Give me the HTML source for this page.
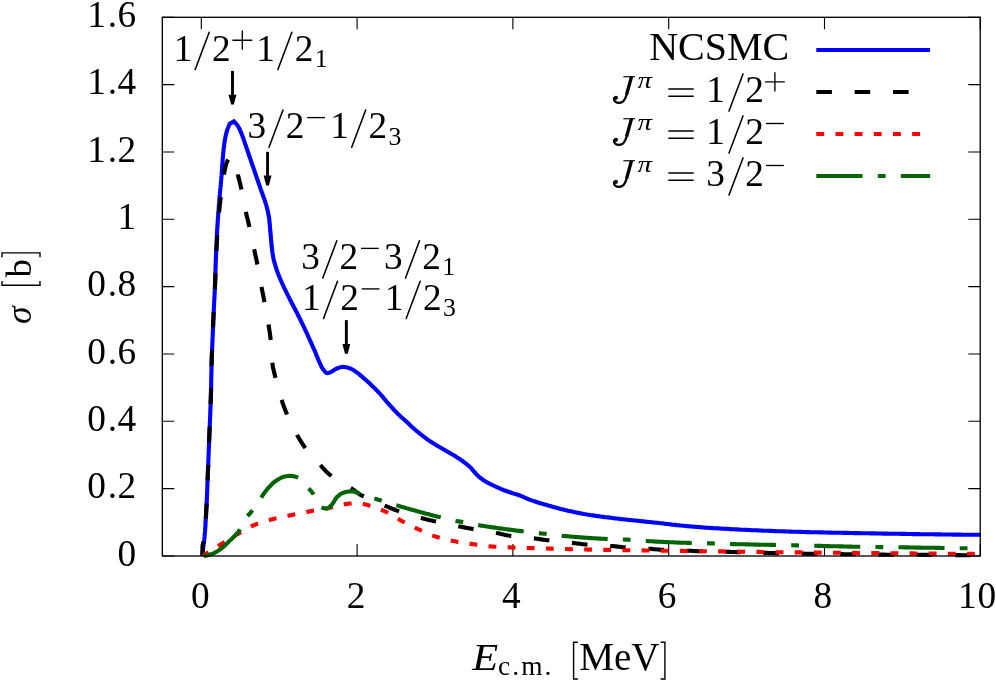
<!DOCTYPE html>
<html><head><meta charset="utf-8"><title>NCSMC cross section</title>
<style>html,body{margin:0;padding:0;background:#fff;}svg{display:block;will-change:transform;}</style>
</head><body>
<svg width="996" height="682" viewBox="0 0 996 682">
<rect width="996" height="682" fill="#ffffff"/>
<g stroke="#000" stroke-width="1.12" fill="none">
<path d="M201.3 556.0v-12.0M201.3 17.3v12.0"/>
<path d="M357.1 556.0v-12.0M357.1 17.3v12.0"/>
<path d="M512.9 556.0v-12.0M512.9 17.3v12.0"/>
<path d="M668.7 556.0v-12.0M668.7 17.3v12.0"/>
<path d="M824.5 556.0v-12.0M824.5 17.3v12.0"/>
<path d="M980.3 556.0v-12.0M980.3 17.3v12.0"/>
<path d="M162.3 556.0h12.0M980.3 556.0h-12.0"/>
<path d="M162.3 488.6h12.0M980.3 488.6h-12.0"/>
<path d="M162.3 421.3h12.0M980.3 421.3h-12.0"/>
<path d="M162.3 354.0h12.0M980.3 354.0h-12.0"/>
<path d="M162.3 286.6h12.0M980.3 286.6h-12.0"/>
<path d="M162.3 219.3h12.0M980.3 219.3h-12.0"/>
<path d="M162.3 152.0h12.0M980.3 152.0h-12.0"/>
<path d="M162.3 84.6h12.0M980.3 84.6h-12.0"/>
<path d="M162.3 17.3h12.0M980.3 17.3h-12.0"/>
</g>
<path id="c-blue" d="M202.3 556.0L202.5 554.5 202.6 553.0 202.8 551.5 203.0 550.0 203.1 548.5 203.3 547.0 203.5 545.5 203.7 544.0 203.9 542.5 204.1 541.0 204.3 539.5 204.4 538.0 204.6 536.5 204.7 535.0 204.8 533.5 205.0 532.0 205.1 530.5 205.2 529.0 205.3 527.5 205.4 526.0 205.5 524.5 205.5 523.0 205.6 521.5 205.7 520.0 205.8 518.5 205.9 517.0 206.0 515.5 206.1 514.0 206.1 512.5 206.2 511.0 206.3 509.5 206.4 508.0 206.5 506.5 206.6 505.0 206.6 503.5 206.7 502.0 206.8 500.5 206.8 499.0 206.9 497.4 207.0 495.9 207.0 494.4 207.1 492.9 207.2 491.4 207.2 489.9 207.3 488.4 207.3 486.9 207.4 485.4 207.4 483.9 207.5 482.4 207.6 480.9 207.6 479.4 207.7 477.9 207.7 476.4 207.8 474.9 207.9 473.4 207.9 471.9 208.0 470.3 208.0 468.8 208.1 467.3 208.2 465.8 208.2 464.3 208.3 462.8 208.3 461.3 208.4 459.8 208.5 458.3 208.5 456.8 208.6 455.3 208.6 453.8 208.7 452.3 208.8 450.8 208.8 449.3 208.9 447.8 208.9 446.3 209.0 444.8 209.0 443.2 209.1 441.7 209.2 440.2 209.2 438.7 209.3 437.2 209.3 435.7 209.4 434.2 209.5 432.7 209.5 431.2 209.6 429.7 209.7 428.2 209.7 426.7 209.8 425.2 209.8 423.7 209.9 422.2 210.0 420.7 210.0 419.2 210.1 417.7 210.2 416.2 210.2 414.6 210.3 413.1 210.3 411.6 210.4 410.1 210.4 408.6 210.5 407.1 210.6 405.6 210.6 404.1 210.7 402.6 210.7 401.1 210.8 399.6 210.8 398.1 210.9 396.6 210.9 395.1 210.9 393.6 211.0 392.1 211.0 390.6 211.1 389.0 211.1 387.5 211.1 386.0 211.2 384.5 211.2 383.0 211.2 381.5 211.2 380.0 211.3 378.5 211.3 377.0 211.3 375.5 211.4 374.0 211.4 372.5 211.4 371.0 211.5 369.5 211.5 368.0 211.5 366.5 211.6 364.9 211.6 363.4 211.6 361.9 211.7 360.4 211.7 358.9 211.8 357.4 211.8 355.9 211.9 354.4 212.0 352.9 212.0 351.4 212.1 349.9 212.1 348.4 212.2 346.9 212.3 345.4 212.3 343.9 212.4 342.4 212.5 340.9 212.5 339.4 212.6 337.8 212.7 336.3 212.7 334.8 212.8 333.3 212.8 331.8 212.9 330.3 213.0 328.8 213.0 327.3 213.1 325.8 213.1 324.3 213.2 322.8 213.3 321.3 213.3 319.8 213.4 318.3 213.5 316.8 213.5 315.3 213.6 313.8 213.7 312.3 213.8 310.8 213.8 309.3 213.9 307.7 214.0 306.2 214.1 304.7 214.1 303.2 214.2 301.7 214.3 300.2 214.4 298.7 214.4 297.2 214.5 295.7 214.6 294.2 214.7 292.7 214.7 291.2 214.8 289.7 214.9 288.2 214.9 286.7 215.0 285.2 215.1 283.7 215.1 282.2 215.2 280.7 215.2 279.2 215.3 277.6 215.3 276.1 215.4 274.6 215.4 273.1 215.4 271.6 215.5 270.1 215.5 268.6 215.6 267.1 215.6 265.6 215.7 264.1 215.7 262.6 215.8 261.1 215.8 259.6 215.9 258.1 216.0 256.6 216.0 255.1 216.1 253.6 216.1 252.0 216.2 250.5 216.3 249.0 216.3 247.5 216.4 246.0 216.5 244.5 216.5 243.0 216.6 241.5 216.7 240.0 216.7 238.5 216.8 237.0 216.9 235.5 217.0 234.0 217.1 232.5 217.1 231.0 217.2 229.5 217.3 228.0 217.4 226.5 217.5 225.0 217.6 223.5 217.7 222.0 217.8 220.5 217.9 218.9 218.0 217.4 218.1 215.9 218.2 214.4 218.3 212.9 218.4 211.4 218.6 209.9 218.7 208.4 218.8 206.9 218.9 205.4 219.0 203.9 219.2 202.4 219.3 200.9 219.4 199.4 219.5 197.9 219.6 196.4 219.8 194.9 219.9 193.4 220.0 191.9 220.2 190.4 220.3 188.9 220.5 187.4 220.6 185.9 220.8 184.4 220.9 182.9 221.0 181.4 221.2 179.9 221.3 178.4 221.4 176.9 221.6 175.4 221.7 173.9 221.8 172.4 221.9 170.9 222.0 169.4 222.1 167.9 222.2 166.4 222.3 164.9 222.4 163.4 222.5 161.9 222.6 160.4 222.7 158.9 222.8 157.4 223.0 155.9 223.1 154.4 223.2 152.9 223.4 151.4 223.5 149.9 223.7 148.4 223.9 146.9 224.1 145.4 224.3 143.9 224.5 142.4 224.7 140.9 225.0 139.4 225.3 137.9 225.6 136.4 225.9 135.0 226.2 133.5 226.6 132.1 227.0 130.7 227.5 129.2 228.1 127.8 228.6 126.4 229.2 125.0 229.8 123.6 233.8 121.4 234.9 122.5 236.0 123.6 237.0 124.8 237.9 126.0 238.6 127.3 239.4 128.7 240.0 130.1 240.6 131.5 241.2 132.9 241.8 134.4 242.3 135.8 242.9 137.3 243.4 138.7 243.9 140.2 244.5 141.6 244.9 143.1 245.4 144.6 245.9 146.0 246.4 147.5 246.9 148.9 247.4 150.4 247.9 151.9 248.4 153.3 248.9 154.8 249.4 156.2 249.9 157.7 250.4 159.2 250.9 160.6 251.4 162.1 251.9 163.5 252.4 165.0 252.9 166.4 253.4 167.9 253.9 169.4 254.4 170.8 254.9 172.3 255.4 173.7 255.9 175.2 256.4 176.6 256.9 178.1 257.4 179.6 257.9 181.0 258.4 182.5 258.9 183.9 259.4 185.4 259.9 186.8 260.4 188.3 260.9 189.7 261.4 191.2 261.9 192.6 262.5 194.1 263.0 195.5 263.5 197.0 264.1 198.4 264.6 199.9 265.1 201.4 265.5 202.8 266.0 204.3 266.4 205.8 266.8 207.3 267.2 208.8 267.5 210.2 267.9 211.7 268.2 213.3 268.5 214.8 268.8 216.3 269.1 217.8 269.2 219.3 269.4 220.8 269.5 222.3 269.7 223.8 269.8 225.3 269.9 226.8 270.1 228.3 270.2 229.8 270.3 231.3 270.5 232.8 270.6 234.3 270.7 235.8 270.9 237.3 271.0 238.8 271.1 240.3 271.3 241.8 271.4 243.3 271.5 244.8 271.7 246.3 271.9 247.8 272.1 249.3 272.2 250.8 272.4 252.3 272.7 253.8 272.9 255.2 273.1 256.7 273.4 258.2 273.7 259.7 274.1 261.1 274.5 262.6 274.9 264.0 275.3 265.5 275.8 266.9 276.2 268.4 276.7 269.8 277.2 271.2 277.7 272.6 278.2 274.0 278.7 275.4 279.3 276.8 279.9 278.2 280.5 279.6 281.1 281.0 281.7 282.4 282.3 283.7 283.0 285.1 283.6 286.5 284.2 287.8 284.9 289.2 285.5 290.5 286.2 291.9 286.9 293.3 287.5 294.6 288.2 295.9 288.9 297.3 289.6 298.6 290.2 300.0 290.9 301.3 291.6 302.7 292.3 304.0 293.0 305.3 293.7 306.7 294.4 308.0 295.1 309.3 295.8 310.7 296.5 312.0 297.2 313.3 297.8 314.7 298.5 316.0 299.2 317.4 299.9 318.7 300.5 320.1 301.2 321.4 301.8 322.8 302.5 324.1 303.2 325.5 303.8 326.9 304.5 328.2 305.1 329.6 305.7 330.9 306.4 332.3 307.0 333.7 307.6 335.0 308.2 336.4 308.9 337.8 309.5 339.2 310.1 340.5 310.7 341.9 311.3 343.3 311.9 344.7 312.5 346.0 313.1 347.4 313.8 348.8 314.4 350.2 315.0 351.5 315.6 352.9 316.1 354.3 316.7 355.7 317.3 357.1 317.8 358.5 318.4 359.9 319.0 361.3 319.6 362.7 320.2 364.0 320.9 365.4 321.5 366.8 322.3 368.1 323.1 369.4 324.0 370.5 325.1 371.8 326.3 372.8 327.6 373.1 329.0 372.7 330.5 372.2 331.9 371.5 333.1 370.7 334.4 369.8 335.7 369.0 337.0 368.5 338.4 367.9 339.9 367.4 341.4 367.0 342.9 366.9 344.3 367.0 345.8 367.2 347.3 367.6 348.8 368.0 350.2 368.4 351.6 369.0 352.9 369.7 354.2 370.6 355.5 371.4 356.7 372.3 357.9 373.2 359.1 374.1 360.2 375.1 361.4 376.1 362.5 377.1 363.6 378.1 364.8 379.1 365.9 380.1 367.0 381.1 368.1 382.1 369.2 383.1 370.3 384.1 371.4 385.2 372.5 386.2 373.6 387.3 374.7 388.3 375.7 389.4 376.8 390.4 377.8 391.5 378.9 392.6 379.9 393.7 380.9 394.8 381.9 395.9 382.9 397.1 383.8 398.3 384.8 399.4 385.8 400.6 386.7 401.7 387.7 402.9 388.7 404.0 389.7 405.1 390.7 406.2 391.7 407.3 392.8 408.5 393.8 409.6 394.8 410.7 395.9 411.7 396.9 412.8 398.0 413.9 399.1 414.9 400.1 416.0 401.2 417.0 402.3 418.0 403.5 419.0 404.6 420.1 405.7 421.1 406.8 422.1 407.9 423.1 409.0 424.1 410.1 425.2 411.2 426.2 412.3 427.2 413.4 428.2 414.6 429.2 415.7 430.2 416.8 431.2 418.0 432.1 419.2 433.1 420.3 434.0 421.5 435.0 422.7 435.9 423.9 436.8 425.1 437.7 426.3 438.6 427.5 439.5 428.8 440.4 430.0 441.2 431.3 442.0 432.5 442.8 433.8 443.6 435.1 444.4 436.4 445.2 437.7 446.0 439.0 446.8 440.3 447.5 441.6 448.2 442.9 449.0 444.2 449.7 445.5 450.5 446.8 451.2 448.1 452.0 449.4 452.7 450.7 453.5 452.0 454.3 453.3 455.0 454.6 455.8 455.9 456.6 457.1 457.4 458.4 458.2 459.7 459.0 460.9 459.9 462.1 460.8 463.4 461.7 464.6 462.6 465.7 463.5 466.9 464.4 468.1 465.4 469.2 466.3 470.4 467.4 471.4 468.4 472.4 469.6 473.3 470.7 474.3 471.9 475.3 473.0 476.3 474.1 477.4 475.2 478.5 476.3 479.6 477.3 480.8 478.2 482.0 479.1 483.2 480.0 484.5 480.8 485.7 481.6 487.0 482.3 488.4 483.0 489.7 483.8 491.0 484.4 492.4 485.1 493.8 485.7 495.1 486.3 496.5 486.9 497.9 487.6 499.3 488.2 500.6 488.8 502.0 489.4 503.4 490.0 504.8 490.5 506.2 491.0 507.6 491.5 509.1 492.0 510.5 492.5 511.9 493.0 513.4 493.4 514.8 493.9 516.2 494.3 517.7 494.8 519.1 495.3 520.5 495.8 521.9 496.3 523.3 496.9 524.7 497.6 526.0 498.2 527.4 498.8 528.8 499.3 530.2 499.9 531.6 500.4 533.1 500.9 534.5 501.3 535.9 501.8 537.3 502.3 538.8 502.7 540.2 503.2 541.7 503.6 543.1 504.0 544.6 504.4 546.0 504.8 547.5 505.3 548.9 505.7 550.4 506.1 551.8 506.5 553.3 506.9 554.7 507.3 556.2 507.7 557.6 508.1 559.1 508.5 560.5 508.9 562.0 509.2 563.4 509.6 564.9 510.0 566.4 510.3 567.8 510.7 569.3 511.0 570.8 511.3 572.2 511.6 573.7 512.0 575.2 512.3 576.7 512.6 578.1 512.9 579.6 513.1 581.1 513.4 582.6 513.7 584.1 514.0 585.5 514.2 587.0 514.5 588.5 514.7 590.0 515.0 591.5 515.2 593.0 515.4 594.5 515.6 595.9 515.9 597.4 516.1 598.9 516.3 600.4 516.5 601.9 516.7 603.4 516.9 604.9 517.1 606.4 517.2 607.9 517.4 609.4 517.6 610.9 517.8 612.4 518.0 613.9 518.2 615.4 518.4 616.8 518.5 618.3 518.7 619.8 518.9 621.3 519.1 622.8 519.2 624.3 519.4 625.8 519.5 627.3 519.7 628.8 519.9 630.3 520.0 631.8 520.2 633.3 520.3 634.8 520.5 636.3 520.6 637.8 520.8 639.3 521.0 640.8 521.1 642.3 521.3 643.8 521.4 645.3 521.6 646.8 521.7 648.3 521.9 649.8 522.0 651.3 522.2 652.8 522.4 654.3 522.5 655.8 522.7 657.3 522.8 658.8 523.0 660.3 523.2 661.7 523.3 663.2 523.5 664.7 523.7 666.2 523.9 667.7 524.0 669.2 524.2 670.7 524.4 672.2 524.6 673.7 524.7 675.2 524.9 676.7 525.1 678.2 525.2 679.7 525.4 681.2 525.5 682.7 525.7 684.2 525.8 685.7 526.0 687.2 526.1 688.7 526.2 690.2 526.4 691.7 526.5 693.2 526.6 694.7 526.8 696.2 526.9 697.7 527.0 699.2 527.1 700.7 527.3 702.2 527.4 703.7 527.5 705.2 527.6 706.7 527.7 708.2 527.8 709.7 527.9 711.2 528.0 712.7 528.1 714.2 528.2 715.7 528.2 717.2 528.3 718.7 528.4 720.2 528.5 721.7 528.6 723.2 528.7 724.7 528.8 726.2 528.9 727.7 528.9 729.2 529.0 730.7 529.1 732.2 529.2 733.7 529.3 735.2 529.4 736.7 529.4 738.2 529.5 739.7 529.6 741.2 529.7 742.8 529.7 744.3 529.8 745.8 529.9 747.3 529.9 748.8 530.0 750.3 530.1 751.8 530.2 753.3 530.2 754.8 530.3 756.3 530.3 757.8 530.4 759.3 530.5 760.8 530.5 762.3 530.6 763.8 530.7 765.3 530.7 766.8 530.8 768.3 530.8 769.8 530.9 771.3 530.9 772.8 531.0 774.3 531.1 775.8 531.1 777.3 531.2 778.8 531.2 780.3 531.3 781.9 531.3 783.4 531.4 784.9 531.4 786.4 531.5 787.9 531.5 789.4 531.6 790.9 531.6 792.4 531.7 793.9 531.7 795.4 531.8 796.9 531.8 798.4 531.8 799.9 531.9 801.4 531.9 802.9 532.0 804.4 532.0 805.9 532.1 807.4 532.1 808.9 532.1 810.4 532.2 811.9 532.2 813.4 532.2 815.0 532.3 816.5 532.3 818.0 532.3 819.5 532.4 821.0 532.4 822.5 532.4 824.0 532.5 825.5 532.5 827.0 532.5 828.5 532.6 830.0 532.6 831.5 532.6 833.0 532.7 834.5 532.7 836.0 532.7 837.5 532.7 839.0 532.8 840.5 532.8 842.0 532.8 843.5 532.9 845.1 532.9 846.6 532.9 848.1 532.9 849.6 533.0 851.1 533.0 852.6 533.0 854.1 533.1 855.6 533.1 857.1 533.1 858.6 533.1 860.1 533.2 861.6 533.2 863.1 533.2 864.6 533.3 866.1 533.3 867.6 533.3 869.1 533.3 870.6 533.4 872.1 533.4 873.6 533.4 875.1 533.4 876.7 533.5 878.2 533.5 879.7 533.5 881.2 533.5 882.7 533.6 884.2 533.6 885.7 533.6 887.2 533.6 888.7 533.7 890.2 533.7 891.7 533.7 893.2 533.7 894.7 533.8 896.2 533.8 897.7 533.8 899.2 533.8 900.7 533.9 902.2 533.9 903.7 533.9 905.2 533.9 906.8 534.0 908.3 534.0 909.8 534.0 911.3 534.0 912.8 534.1 914.3 534.1 915.8 534.1 917.3 534.1 918.8 534.1 920.3 534.2 921.8 534.2 923.3 534.2 924.8 534.2 926.3 534.3 927.8 534.3 929.3 534.3 930.8 534.3 932.3 534.3 933.8 534.3 935.3 534.4 936.9 534.4 938.4 534.4 939.9 534.4 941.4 534.4 942.9 534.5 944.4 534.5 945.9 534.5 947.4 534.5 948.9 534.5 950.4 534.5 951.9 534.5 953.4 534.6 954.9 534.6 956.4 534.6 957.9 534.6 959.4 534.6 960.9 534.6 962.4 534.7 963.9 534.7 965.4 534.7 967.0 534.7 968.5 534.7 970.0 534.7 971.5 534.7 973.0 534.7 974.5 534.8 976.0 534.8 977.5 534.8 979.0 534.8 980.5 534.8" fill="none" stroke="#0000ff" stroke-width="4.12" stroke-linejoin="miter"/>
<path id="c-black" d="M202.5 556.0L202.5 554.5 202.5 553.0 202.5 551.5 202.6 550.0 202.6 548.5 202.6 547.0 202.8 545.5 203.0 544.0 203.3 542.5 203.5 541.1 203.8 539.6 204.1 538.1 204.3 536.6 204.5 535.1 204.7 533.6 204.8 532.1 204.9 530.6 205.1 529.1 205.2 527.6 205.3 526.1 205.4 524.6 205.5 523.1 205.6 521.6 205.7 520.1 205.8 518.6 205.9 517.2 206.0 515.7 206.1 514.2 206.1 512.7 206.2 511.2 206.3 509.7 206.4 508.2 206.5 506.7 206.6 505.2 206.6 503.7 206.7 502.2 206.8 500.7 206.8 499.2 206.9 497.7 207.0 496.2 207.0 494.7 207.1 493.2 207.2 491.7 207.2 490.2 207.3 488.7 207.3 487.2 207.4 485.7 207.4 484.2 207.5 482.7 207.6 481.2 207.6 479.6 207.7 478.1 207.7 476.6 207.8 475.1 207.9 473.6 207.9 472.1 208.0 470.6 208.0 469.1 208.1 467.6 208.2 466.1 208.2 464.6 208.3 463.1 208.3 461.6 208.4 460.1 208.5 458.6 208.5 457.1 208.6 455.6 208.6 454.1 208.7 452.6 208.7 451.1 208.8 449.6 208.9 448.1 208.9 446.6 209.0 445.1 209.0 443.6 209.1 442.1 209.1 440.6 209.2 439.1 209.3 437.6 209.3 436.1 209.4 434.6 209.4 433.1 209.5 431.6 209.6 430.1 209.6 428.6 209.7 427.1 209.8 425.6 209.8 424.1 209.9 422.6 210.0 421.1 210.0 419.6 210.1 418.1 210.1 416.6 210.2 415.1 210.3 413.6 210.3 412.1 210.4 410.6 210.4 409.1 210.5 407.6 210.5 406.1 210.6 404.6 210.6 403.1 210.7 401.6 210.7 400.1 210.8 398.6 210.8 397.1 210.9 395.6 210.9 394.1 211.0 392.6 211.0 391.1 211.0 389.6 211.1 388.1 211.1 386.6 211.1 385.1 211.2 383.6 211.2 382.1 211.2 380.6 211.3 379.1 211.3 377.6 211.3 376.1 211.3 374.6 211.4 373.1 211.4 371.6 211.4 370.1 211.5 368.6 211.5 367.1 211.5 365.6 211.6 364.1 211.6 362.6 211.7 361.1 211.7 359.6 211.8 358.1 211.8 356.6 211.9 355.1 211.9 353.6 212.0 352.1 212.1 350.6 212.1 349.1 212.2 347.6 212.2 346.1 212.3 344.6 212.4 343.1 212.4 341.6 212.5 340.1 212.6 338.6 212.6 337.1 212.7 335.6 212.8 334.1 212.8 332.6 212.9 331.1 212.9 329.6 213.0 328.1 213.1 326.6 213.1 325.1 213.2 323.6 213.2 322.1 213.3 320.6 213.4 319.1 213.4 317.6 213.5 316.1 213.6 314.6 213.6 313.1 213.7 311.6 213.8 310.1 213.9 308.6 213.9 307.1 214.0 305.6 214.1 304.1 214.2 302.6 214.2 301.1 214.3 299.6 214.4 298.1 214.5 296.6 214.5 295.1 214.6 293.6 214.7 292.1 214.7 290.6 214.8 289.1 214.9 287.6 215.0 286.1 215.0 284.6 215.1 283.1 215.1 281.6 215.2 280.1 215.3 278.6 215.3 277.1 215.4 275.6 215.4 274.1 215.5 272.6 215.6 271.1 215.6 269.6 215.7 268.1 215.7 266.6 215.8 265.1 215.9 263.6 215.9 262.1 216.0 260.6 216.1 259.1 216.1 257.6 216.2 256.1 216.3 254.6 216.3 253.1 216.4 251.6 216.5 250.1 216.6 248.6 216.6 247.1 216.7 245.6 216.8 244.1 216.9 242.6 217.0 241.1 217.1 239.6 217.1 238.1 217.2 236.6 217.3 235.1 217.4 233.6 217.5 232.1 217.6 230.6 217.7 229.1 217.8 227.6 217.9 226.1 218.1 224.6 218.2 223.1 218.3 221.6 218.4 220.1 218.5 218.6 218.7 217.1 218.8 215.6 218.9 214.1 219.1 212.6 219.2 211.1 219.4 209.6 219.5 208.1 219.7 206.6 219.8 205.1 220.0 203.7 220.2 202.2 220.3 200.7 220.5 199.2 220.7 197.7 220.8 196.2 221.0 194.7 221.2 193.2 221.4 191.7 221.5 190.2 221.7 188.7 221.9 187.2 222.1 185.7 222.3 184.2 222.5 182.8 222.8 181.3 223.0 179.8 223.2 178.3 223.5 176.8 223.7 175.4 224.0 173.9 224.3 172.4 224.6 170.9 224.9 169.3 225.2 167.8 225.6 166.2 226.0 164.7 226.4 163.3 226.9 162.0 227.5 160.8 228.3 159.6 229.6 158.3 230.9 157.4 231.9 157.3 232.7 158.0 233.5 159.4 234.2 161.2 234.8 162.9 235.3 164.3 235.7 165.7 236.1 167.2 236.5 168.6 236.8 170.1 237.1 171.6 237.5 173.0 237.8 174.5 238.2 176.0 238.5 177.4 238.9 178.9 239.3 180.3 239.7 181.8 240.0 183.2 240.4 184.7 240.7 186.2 241.1 187.6 241.4 189.1 241.7 190.6 242.0 192.0 242.3 193.5 242.6 195.0 242.9 196.4 243.2 197.9 243.5 199.4 243.7 200.9 244.0 202.4 244.3 203.8 244.5 205.3 244.8 206.8 245.1 208.3 245.4 209.7 245.7 211.2 246.0 212.7 246.3 214.1 246.7 215.6 247.0 217.1 247.4 218.5 247.8 220.0 248.1 221.4 248.5 222.9 248.8 224.4 249.2 225.8 249.5 227.3 249.8 228.7 250.2 230.2 250.5 231.7 250.8 233.1 251.1 234.6 251.4 236.1 251.7 237.5 252.0 239.0 252.3 240.5 252.7 242.0 253.0 243.4 253.3 244.9 253.6 246.4 253.9 247.8 254.2 249.3 254.5 250.8 254.8 252.2 255.1 253.7 255.4 255.2 255.8 256.7 256.1 258.1 256.4 259.6 256.7 261.1 257.0 262.5 257.3 264.0 257.6 265.5 257.9 266.9 258.2 268.4 258.4 269.9 258.7 271.4 259.0 272.9 259.2 274.3 259.5 275.8 259.7 277.3 260.0 278.8 260.3 280.2 260.5 281.7 260.8 283.2 261.1 284.7 261.3 286.2 261.6 287.6 261.9 289.1 262.2 290.6 262.5 292.1 262.8 293.5 263.1 295.0 263.4 296.5 263.7 297.9 264.0 299.4 264.2 300.9 264.5 302.4 264.8 303.8 265.1 305.3 265.4 306.8 265.6 308.3 265.9 309.7 266.2 311.2 266.5 312.7 266.7 314.2 267.0 315.7 267.3 317.1 267.5 318.6 267.8 320.1 268.0 321.6 268.3 323.1 268.5 324.5 268.7 326.0 269.0 327.5 269.2 329.0 269.4 330.5 269.7 332.0 269.9 333.4 270.1 334.9 270.3 336.4 270.5 337.9 270.6 339.4 270.7 340.9 270.9 342.4 271.0 343.9 271.1 345.4 271.2 346.9 271.3 348.4 271.3 349.9 271.4 351.4 271.5 352.9 271.6 354.4 271.7 355.9 271.8 357.4 271.9 358.9 272.1 360.4 272.2 361.9 272.4 363.4 272.6 364.8 272.8 366.3 273.1 367.8 273.4 369.3 273.8 370.7 274.1 372.2 274.5 373.7 274.8 375.1 275.2 376.6 275.6 378.0 275.9 379.5 276.3 381.0 276.6 382.4 277.0 383.9 277.4 385.3 277.8 386.8 278.2 388.2 278.6 389.7 279.0 391.1 279.4 392.6 279.8 394.0 280.3 395.4 280.7 396.9 281.2 398.3 281.6 399.7 282.1 401.2 282.5 402.6 283.0 404.0 283.5 405.4 284.0 406.9 284.6 408.3 285.1 409.7 285.6 411.1 286.2 412.5 286.8 413.8 287.3 415.2 287.9 416.6 288.5 418.0 289.2 419.3 289.8 420.7 290.4 422.1 291.1 423.4 291.7 424.8 292.4 426.1 293.1 427.5 293.8 428.8 294.5 430.1 295.2 431.5 295.9 432.8 296.6 434.1 297.3 435.4 298.1 436.7 298.8 438.0 299.6 439.3 300.4 440.6 301.2 441.9 302.0 443.2 302.8 444.4 303.7 445.7 304.5 446.9 305.4 448.1 306.3 449.3 307.2 450.5 308.1 451.6 309.1 452.8 310.1 453.9 311.0 455.1 312.0 456.2 313.1 457.3 314.1 458.4 315.1 459.5 316.1 460.7 317.1 461.8 318.2 462.9 319.2 463.9 320.2 465.0 321.3 466.1 322.3 467.3 323.3 468.4 324.3 469.5 325.4 470.6 326.4 471.7 327.5 472.7 328.6 473.7 329.7 474.7 330.9 475.6 332.0 476.5 333.2 477.4 334.5 478.2 335.7 479.1 337.0 479.9 338.3 480.6 339.6 481.4 340.9 482.1 342.2 482.9 343.5 483.6 344.8 484.4 346.2 485.1 347.5 485.9 348.7 486.7 350.0 487.5 351.3 488.3 352.5 489.2 353.8 490.0 355.0 490.9 356.2 491.8 357.4 492.7 358.7 493.6 359.9 494.4 361.2 495.2 362.5 495.9 363.8 496.6 365.1 497.3 366.4 497.9 367.8 498.6 369.2 499.2 370.5 499.8 371.9 500.4 373.3 501.0 374.7 501.5 376.1 502.1 377.5 502.7 378.9 503.2 380.3 503.8 381.7 504.3 383.1 504.9 384.5 505.5 385.9 506.1 387.3 506.7 388.6 507.2 390.0 507.8 391.4 508.4 392.8 509.0 394.2 509.5 395.6 510.1 397.0 510.6 398.4 511.1 399.8 511.6 401.3 512.0 402.7 512.5 404.1 513.0 405.6 513.4 407.0 513.9 408.4 514.3 409.9 514.7 411.3 515.2 412.8 515.6 414.2 516.0 415.6 516.4 417.1 516.8 418.5 517.2 420.0 517.6 421.4 518.0 422.9 518.4 424.3 518.8 425.8 519.2 427.2 519.5 428.7 519.9 430.2 520.3 431.6 520.6 433.1 521.0 434.5 521.3 436.0 521.6 437.5 522.0 438.9 522.3 440.4 522.6 441.9 522.9 443.3 523.3 444.8 523.6 446.3 523.9 447.7 524.2 449.2 524.5 450.7 524.8 452.2 525.1 453.6 525.4 455.1 525.7 456.6 525.9 458.1 526.2 459.5 526.5 461.0 526.8 462.5 527.1 464.0 527.4 465.4 527.6 466.9 527.9 468.4 528.2 469.9 528.4 471.3 528.7 472.8 529.0 474.3 529.2 475.8 529.5 477.3 529.7 478.8 529.9 480.2 530.2 481.7 530.4 483.2 530.6 484.7 530.9 486.2 531.1 487.7 531.3 489.1 531.6 490.6 531.8 492.1 532.1 493.6 532.3 495.1 532.6 496.5 532.9 498.0 533.2 499.5 533.5 500.9 533.9 502.4 534.2 503.9 534.6 505.3 534.9 506.8 535.2 508.3 535.5 509.7 535.7 511.2 536.0 512.7 536.2 514.2 536.3 515.7 536.5 517.2 536.7 518.7 536.8 520.2 537.0 521.7 537.1 523.2 537.3 524.7 537.4 526.2 537.6 527.6 537.7 529.1 537.9 530.6 538.0 532.1 538.2 533.6 538.4 535.1 538.5 536.6 538.7 538.1 538.9 539.6 539.1 541.1 539.4 542.6 539.6 544.0 539.8 545.5 540.0 547.0 540.2 548.5 540.3 550.0 540.5 551.5 540.7 553.0 540.8 554.5 541.0 556.0 541.2 557.5 541.3 559.0 541.5 560.5 541.6 561.9 541.8 563.4 541.9 564.9 542.1 566.4 542.2 567.9 542.4 569.4 542.6 570.9 542.7 572.4 542.9 573.9 543.1 575.4 543.3 576.9 543.5 578.4 543.6 579.9 543.8 581.3 544.0 582.8 544.2 584.3 544.3 585.8 544.5 587.3 544.6 588.8 544.7 590.3 544.8 591.8 544.9 593.3 545.0 594.8 545.0 596.3 545.1 597.8 545.2 599.3 545.2 600.8 545.3 602.3 545.4 603.8 545.5 605.3 545.5 606.8 545.6 608.3 545.7 609.8 545.8 611.3 546.0 612.8 546.1 614.3 546.3 615.8 546.4 617.3 546.6 618.8 546.8 620.3 546.9 621.8 547.1 623.3 547.2 624.8 547.3 626.2 547.4 627.7 547.5 629.2 547.6 630.7 547.7 632.2 547.8 633.7 547.9 635.2 547.9 636.7 548.0 638.2 548.1 639.7 548.2 641.2 548.2 642.7 548.3 644.2 548.4 645.7 548.5 647.2 548.6 648.7 548.7 650.2 548.8 651.7 548.9 653.2 549.1 654.7 549.2 656.2 549.3 657.7 549.5 659.2 549.6 660.7 549.7 662.2 549.8 663.7 549.8 665.2 549.9 666.7 550.0 668.2 550.0 669.7 550.1 671.2 550.1 672.7 550.2 674.2 550.2 675.7 550.3 677.2 550.3 678.7 550.4 680.2 550.4 681.7 550.5 683.2 550.5 684.7 550.6 686.2 550.6 687.7 550.7 689.2 550.8 690.7 550.8 692.2 550.9 693.7 551.0 695.2 551.1 696.7 551.1 698.2 551.2 699.7 551.3 701.2 551.3 702.7 551.4 704.2 551.4 705.7 551.4 707.2 551.5 708.7 551.5 710.2 551.5 711.7 551.6 713.2 551.6 714.7 551.6 716.2 551.6 717.7 551.7 719.2 551.7 720.7 551.7 722.2 551.7 723.7 551.8 725.2 551.8 726.7 551.8 728.2 551.9 729.7 551.9 731.3 552.0 732.8 552.0 734.3 552.0 735.8 552.1 737.3 552.1 738.8 552.2 740.3 552.2 741.8 552.3 743.3 552.3 744.8 552.3 746.3 552.4 747.8 552.4 749.3 552.5 750.8 552.5 752.3 552.5 753.8 552.6 755.3 552.6 756.8 552.7 758.3 552.7 759.8 552.7 761.3 552.8 762.8 552.8 764.3 552.9 765.8 552.9 767.3 552.9 768.8 553.0 770.3 553.0 771.8 553.0 773.3 553.1 774.8 553.1 776.3 553.1 777.8 553.2 779.3 553.2 780.8 553.2 782.3 553.3 783.8 553.3 785.3 553.3 786.8 553.4 788.3 553.4 789.8 553.4 791.3 553.4 792.8 553.5 794.3 553.5 795.8 553.5 797.3 553.6 798.8 553.6 800.3 553.6 801.8 553.6 803.3 553.6 804.8 553.7 806.3 553.7 807.8 553.7 809.3 553.7 810.8 553.8 812.3 553.8 813.8 553.8 815.3 553.8 816.8 553.8 818.3 553.8 819.8 553.9 821.3 553.9 822.8 553.9 824.3 553.9 825.8 553.9 827.3 554.0 828.8 554.0 830.3 554.0 831.8 554.0 833.3 554.0 834.8 554.0 836.3 554.1 837.8 554.1 839.3 554.1 840.8 554.1 842.4 554.1 843.9 554.2 845.4 554.2 846.9 554.2 848.4 554.2 849.9 554.3 851.4 554.3 852.9 554.3 854.4 554.3 855.9 554.3 857.4 554.4 858.9 554.4 860.4 554.4 861.9 554.4 863.4 554.4 864.9 554.5 866.4 554.5 867.9 554.5 869.4 554.5 870.9 554.5 872.4 554.6 873.9 554.6 875.4 554.6 876.9 554.6 878.4 554.6 879.9 554.6 881.4 554.6 882.9 554.6 884.4 554.6 885.9 554.7 887.4 554.7 888.9 554.7 890.4 554.7 891.9 554.7 893.4 554.7 894.9 554.7 896.4 554.7 897.9 554.7 899.4 554.7 900.9 554.7 902.4 554.7 903.9 554.7 905.4 554.7 906.9 554.8 908.4 554.8 909.9 554.8 911.4 554.8 912.9 554.8 914.4 554.8 915.9 554.8 917.4 554.8 918.9 554.8 920.4 554.8 921.9 554.8 923.4 554.9 924.9 554.9 926.4 554.9 927.9 554.9 929.4 554.9 930.9 554.9 932.4 554.9 933.9 554.9 935.5 554.9 937.0 555.0 938.5 555.0 940.0 555.0 941.5 555.0 943.0 555.0 944.5 555.0 946.0 555.0 947.5 555.0 949.0 555.1 950.5 555.1 952.0 555.1 953.5 555.1 955.0 555.1 956.5 555.1 958.0 555.1 959.5 555.1 961.0 555.1 962.5 555.2 964.0 555.2 965.5 555.2 967.0 555.2 968.5 555.2 970.0 555.2 971.5 555.2 973.0 555.2 974.5 555.3 976.0 555.3 977.5 555.3 979.0 555.3 980.5 555.3" fill="none" stroke="#000000" stroke-width="4.12" stroke-linejoin="miter" stroke-dasharray="15.60 22.75" stroke-dashoffset="1.00"/>
<path id="c-red" d="M203.0 556.0L204.2 555.1 205.5 554.3 206.7 553.4 207.9 552.5 209.2 551.7 210.4 550.9 211.7 550.1 213.0 549.3 214.2 548.4 215.5 547.6 216.8 546.8 218.1 546.1 219.3 545.3 220.6 544.5 221.9 543.7 223.2 542.9 224.4 542.1 225.7 541.3 227.0 540.5 228.3 539.7 229.6 538.9 230.8 538.1 232.1 537.4 233.4 536.6 234.7 535.8 236.0 535.0 237.3 534.3 238.6 533.5 239.9 532.8 241.2 532.0 242.5 531.3 243.8 530.5 245.1 529.7 246.4 529.0 247.8 528.2 249.1 527.5 250.4 526.8 251.7 526.1 253.1 525.5 254.5 524.9 255.8 524.3 257.2 523.8 258.6 523.3 260.1 522.8 261.5 522.3 262.9 521.9 264.4 521.4 265.8 521.0 267.3 520.6 268.7 520.2 270.2 519.8 271.6 519.4 273.1 519.0 274.6 518.7 276.0 518.3 277.5 518.0 278.9 517.6 280.4 517.3 281.9 517.0 283.4 516.7 284.8 516.4 286.3 516.1 287.8 515.8 289.3 515.5 290.7 515.2 292.2 514.9 293.7 514.6 295.1 514.3 296.6 514.0 298.1 513.7 299.6 513.4 301.0 513.1 302.5 512.8 304.0 512.5 305.5 512.2 306.9 511.9 308.4 511.6 309.9 511.4 311.4 511.1 312.9 510.8 314.3 510.6 315.8 510.3 317.3 510.0 318.8 509.8 320.3 509.5 321.7 509.3 323.2 509.0 324.7 508.7 326.2 508.5 327.7 508.2 329.1 507.9 330.6 507.6 332.1 507.3 333.6 506.9 335.0 506.5 336.5 506.2 337.9 505.8 339.4 505.4 340.9 505.1 342.3 504.7 343.8 504.4 345.3 504.1 346.8 503.9 348.2 503.7 349.7 503.5 351.2 503.4 352.7 503.2 354.2 503.1 355.7 503.0 357.2 503.0 358.7 503.1 360.2 503.3 361.7 503.6 363.2 503.9 364.7 504.3 366.1 504.6 367.6 505.0 369.0 505.4 370.5 505.8 371.9 506.2 373.3 506.7 374.8 507.2 376.2 507.7 377.6 508.3 379.0 508.8 380.4 509.4 381.8 510.0 383.2 510.6 384.5 511.2 385.9 511.8 387.2 512.5 388.5 513.2 389.9 513.9 391.2 514.7 392.4 515.4 393.7 516.2 395.0 517.0 396.3 517.8 397.6 518.6 398.9 519.3 400.2 520.1 401.5 520.8 402.9 521.5 404.2 522.2 405.5 522.9 406.9 523.6 408.2 524.3 409.5 525.0 410.9 525.7 412.2 526.4 413.6 527.0 414.9 527.7 416.3 528.3 417.6 529.0 419.0 529.6 420.4 530.2 421.7 530.8 423.1 531.5 424.5 532.1 425.9 532.7 427.2 533.3 428.6 533.9 430.0 534.5 431.4 535.1 432.8 535.6 434.2 536.1 435.6 536.6 437.1 537.0 438.5 537.5 439.9 537.9 441.4 538.3 442.8 538.7 444.3 539.1 445.8 539.4 447.2 539.8 448.7 540.1 450.2 540.4 451.7 540.7 453.1 541.0 454.6 541.3 456.1 541.6 457.6 541.9 459.0 542.1 460.5 542.4 462.0 542.6 463.5 542.8 465.0 543.1 466.5 543.3 468.0 543.5 469.5 543.7 470.9 543.9 472.4 544.1 473.9 544.3 475.4 544.5 476.9 544.7 478.4 544.9 479.9 545.1 481.4 545.3 482.9 545.5 484.4 545.7 485.9 545.9 487.4 546.1 488.8 546.2 490.3 546.4 491.8 546.5 493.3 546.6 494.8 546.7 496.3 546.8 497.8 546.9 499.3 547.0 500.8 547.0 502.3 547.1 503.8 547.2 505.4 547.2 506.9 547.3 508.4 547.3 509.9 547.4 511.4 547.5 512.9 547.5 514.4 547.6 515.9 547.6 517.4 547.7 518.9 547.7 520.4 547.8 521.9 547.8 523.4 547.8 524.9 547.9 526.4 547.9 527.9 548.0 529.4 548.0 530.9 548.1 532.4 548.1 533.9 548.1 535.4 548.2 536.9 548.2 538.4 548.3 539.9 548.3 541.4 548.3 542.9 548.4 544.4 548.4 545.9 548.5 547.4 548.5 548.9 548.5 550.4 548.6 552.0 548.6 553.5 548.7 555.0 548.7 556.5 548.8 558.0 548.8 559.5 548.8 561.0 548.9 562.5 548.9 564.0 549.0 565.5 549.0 567.0 549.0 568.5 549.1 570.0 549.1 571.5 549.2 573.0 549.2 574.5 549.2 576.0 549.3 577.5 549.3 579.0 549.3 580.5 549.4 582.0 549.4 583.5 549.5 585.0 549.5 586.5 549.5 588.0 549.6 589.5 549.6 591.0 549.6 592.5 549.7 594.0 549.7 595.5 549.7 597.1 549.7 598.6 549.8 600.1 549.8 601.6 549.8 603.1 549.9 604.6 549.9 606.1 549.9 607.6 549.9 609.1 550.0 610.6 550.0 612.1 550.0 613.6 550.0 615.1 550.1 616.6 550.1 618.1 550.1 619.6 550.1 621.1 550.1 622.6 550.2 624.1 550.2 625.6 550.2 627.1 550.2 628.6 550.2 630.1 550.3 631.6 550.3 633.1 550.3 634.6 550.3 636.1 550.3 637.6 550.4 639.2 550.4 640.7 550.4 642.2 550.4 643.7 550.4 645.2 550.5 646.7 550.5 648.2 550.5 649.7 550.5 651.2 550.5 652.7 550.6 654.2 550.6 655.7 550.6 657.2 550.6 658.7 550.6 660.2 550.7 661.7 550.7 663.2 550.7 664.7 550.7 666.2 550.7 667.7 550.7 669.2 550.8 670.7 550.8 672.2 550.8 673.7 550.8 675.2 550.8 676.7 550.9 678.3 550.9 679.8 550.9 681.3 550.9 682.8 550.9 684.3 551.0 685.8 551.0 687.3 551.0 688.8 551.0 690.3 551.0 691.8 551.0 693.3 551.1 694.8 551.1 696.3 551.1 697.8 551.1 699.3 551.1 700.8 551.2 702.3 551.2 703.8 551.2 705.3 551.2 706.8 551.2 708.3 551.3 709.8 551.3 711.3 551.3 712.8 551.3 714.3 551.3 715.8 551.3 717.3 551.4 718.9 551.4 720.4 551.4 721.9 551.4 723.4 551.4 724.9 551.5 726.4 551.5 727.9 551.5 729.4 551.5 730.9 551.5 732.4 551.6 733.9 551.6 735.4 551.6 736.9 551.6 738.4 551.6 739.9 551.7 741.4 551.7 742.9 551.7 744.4 551.7 745.9 551.8 747.4 551.8 748.9 551.8 750.4 551.8 751.9 551.8 753.4 551.9 754.9 551.9 756.4 551.9 757.9 551.9 759.4 551.9 761.0 552.0 762.5 552.0 764.0 552.0 765.5 552.0 767.0 552.0 768.5 552.1 770.0 552.1 771.5 552.1 773.0 552.1 774.5 552.1 776.0 552.2 777.5 552.2 779.0 552.2 780.5 552.2 782.0 552.2 783.5 552.2 785.0 552.3 786.5 552.3 788.0 552.3 789.5 552.3 791.0 552.3 792.5 552.3 794.0 552.4 795.5 552.4 797.0 552.4 798.5 552.4 800.0 552.4 801.6 552.4 803.1 552.4 804.6 552.5 806.1 552.5 807.6 552.5 809.1 552.5 810.6 552.5 812.1 552.5 813.6 552.6 815.1 552.6 816.6 552.6 818.1 552.6 819.6 552.6 821.1 552.6 822.6 552.6 824.1 552.7 825.6 552.7 827.1 552.7 828.6 552.7 830.1 552.7 831.6 552.7 833.1 552.7 834.6 552.8 836.1 552.8 837.6 552.8 839.1 552.8 840.7 552.8 842.2 552.8 843.7 552.8 845.2 552.9 846.7 552.9 848.2 552.9 849.7 552.9 851.2 552.9 852.7 552.9 854.2 552.9 855.7 553.0 857.2 553.0 858.7 553.0 860.2 553.0 861.7 553.0 863.2 553.0 864.7 553.0 866.2 553.0 867.7 553.1 869.2 553.1 870.7 553.1 872.2 553.1 873.7 553.1 875.2 553.1 876.7 553.1 878.2 553.1 879.7 553.2 881.3 553.2 882.8 553.2 884.3 553.2 885.8 553.2 887.3 553.2 888.8 553.2 890.3 553.3 891.8 553.3 893.3 553.3 894.8 553.3 896.3 553.3 897.8 553.3 899.3 553.3 900.8 553.3 902.3 553.4 903.8 553.4 905.3 553.4 906.8 553.4 908.3 553.4 909.8 553.4 911.3 553.4 912.8 553.4 914.3 553.5 915.8 553.5 917.3 553.5 918.8 553.5 920.3 553.5 921.9 553.5 923.4 553.5 924.9 553.5 926.4 553.6 927.9 553.6 929.4 553.6 930.9 553.6 932.4 553.6 933.9 553.6 935.4 553.6 936.9 553.6 938.4 553.7 939.9 553.7 941.4 553.7 942.9 553.7 944.4 553.7 945.9 553.7 947.4 553.7 948.9 553.7 950.4 553.8 951.9 553.8 953.4 553.8 954.9 553.8 956.4 553.8 957.9 553.8 959.4 553.8 961.0 553.8 962.5 553.9 964.0 553.9 965.5 553.9 967.0 553.9 968.5 553.9 970.0 553.9 971.5 553.9 973.0 553.9 974.5 554.0 976.0 554.0 977.5 554.0 979.0 554.0 980.5 554.0" fill="none" stroke="#ff0000" stroke-width="4.12" stroke-linejoin="miter" stroke-dasharray="7.85 11.30" stroke-dashoffset="1.20"/>
<path id="c-green" d="M203.4 556.2L204.9 555.9 206.4 555.6 207.8 555.2 209.3 554.8 210.7 554.3 212.1 553.9 213.5 553.3 214.8 552.6 216.2 551.9 217.5 551.2 218.8 550.4 220.0 549.5 221.2 548.7 222.4 547.7 223.5 546.7 224.6 545.7 225.7 544.6 226.8 543.6 227.9 542.5 228.9 541.5 230.0 540.4 231.1 539.4 232.2 538.4 233.3 537.3 234.3 536.2 235.4 535.1 236.4 534.0 237.4 532.9 238.4 531.8 239.3 530.6 240.1 529.4 240.9 528.1 241.7 526.8 242.4 525.5 243.1 524.1 243.8 522.8 244.5 521.4 245.2 520.1 245.9 518.8 246.7 517.5 247.5 516.2 248.4 515.1 249.4 513.9 250.4 512.8 251.4 511.6 252.3 510.5 253.2 509.3 254.1 508.0 254.9 506.8 255.8 505.5 256.6 504.3 257.4 503.0 258.2 501.8 259.1 500.5 259.9 499.3 260.8 498.0 261.7 496.8 262.5 495.6 263.4 494.3 264.3 493.1 265.1 491.9 266.0 490.7 267.0 489.5 267.9 488.4 268.9 487.2 270.0 486.2 271.0 485.1 272.1 484.0 273.2 482.9 274.4 482.0 275.6 481.1 276.8 480.2 278.0 479.5 279.4 478.7 280.7 478.0 282.1 477.3 283.6 476.8 285.0 476.5 286.4 476.2 287.9 476.0 289.5 475.9 291.0 475.9 292.5 476.1 294.0 476.3 295.5 476.7 296.9 477.1 298.2 477.6 299.5 478.4 300.7 479.4 301.9 480.4 303.0 481.5 304.0 482.5 305.0 483.7 305.9 484.8 306.8 486.1 307.7 487.3 308.7 488.4 309.7 489.6 310.7 490.7 311.7 491.8 312.6 493.0 313.4 494.2 314.2 495.5 314.9 496.8 315.6 498.2 316.3 499.5 317.0 500.9 317.8 502.1 318.6 503.5 319.4 504.9 320.3 506.2 321.3 507.3 322.5 507.8 323.9 508.2 325.5 508.4 327.0 508.5 328.3 508.2 329.5 507.2 330.6 506.0 331.7 504.8 332.7 503.6 333.5 502.4 334.3 501.0 335.1 499.7 335.9 498.4 336.8 497.2 337.8 496.2 339.0 495.3 340.2 494.3 341.6 493.5 342.9 492.9 344.3 492.5 345.7 492.1 347.2 491.8 348.8 491.5 350.3 491.4 351.7 491.3 353.2 491.4 354.6 491.8 356.1 492.3 357.5 492.9 358.9 493.5 360.3 494.1 361.8 494.6 363.2 495.0 364.6 495.5 366.0 495.9 367.5 496.4 368.9 496.9 370.3 497.3 371.8 497.8 373.2 498.2 374.7 498.6 376.1 499.1 377.5 499.5 379.0 499.9 380.4 500.3 381.9 500.8 383.3 501.2 384.7 501.6 386.2 502.1 387.6 502.5 389.0 503.0 390.5 503.4 391.9 503.9 393.3 504.3 394.8 504.8 396.2 505.2 397.7 505.6 399.1 506.1 400.5 506.5 402.0 506.9 403.4 507.3 404.9 507.7 406.3 508.1 407.8 508.6 409.2 509.0 410.7 509.4 412.1 509.8 413.6 510.2 415.0 510.6 416.5 511.0 417.9 511.4 419.4 511.8 420.8 512.2 422.3 512.6 423.7 513.0 425.2 513.4 426.6 513.8 428.1 514.1 429.5 514.5 431.0 514.9 432.4 515.3 433.9 515.7 435.3 516.0 436.8 516.4 438.2 516.8 439.7 517.1 441.2 517.5 442.6 517.9 444.1 518.2 445.5 518.6 447.0 518.9 448.5 519.3 449.9 519.6 451.4 520.0 452.9 520.3 454.3 520.6 455.8 520.9 457.3 521.2 458.8 521.4 460.2 521.6 461.7 521.9 463.2 522.1 464.7 522.4 466.2 522.6 467.7 522.9 469.1 523.2 470.6 523.6 472.1 523.9 473.5 524.2 475.0 524.5 476.5 524.8 478.0 525.1 479.4 525.3 480.9 525.6 482.4 525.8 483.9 526.0 485.4 526.3 486.9 526.5 488.3 526.7 489.8 526.9 491.3 527.2 492.8 527.4 494.3 527.6 495.8 527.8 497.3 528.0 498.8 528.2 500.2 528.4 501.7 528.6 503.2 528.8 504.7 529.0 506.2 529.2 507.7 529.4 509.2 529.6 510.7 529.8 512.2 530.0 513.7 530.2 515.2 530.4 516.6 530.6 518.1 530.7 519.6 530.9 521.1 531.1 522.6 531.3 524.1 531.5 525.6 531.7 527.1 531.9 528.6 532.0 530.1 532.2 531.6 532.4 533.1 532.6 534.6 532.7 536.0 532.9 537.5 533.1 539.0 533.2 540.5 533.4 542.0 533.5 543.5 533.7 545.0 533.8 546.5 533.9 548.0 534.1 549.5 534.3 551.0 534.4 552.5 534.6 554.0 534.8 555.5 535.0 557.0 535.2 558.5 535.4 559.9 535.6 561.4 535.7 562.9 535.9 564.4 536.0 565.9 536.1 567.4 536.3 568.9 536.4 570.4 536.5 571.9 536.7 573.4 536.8 574.9 536.9 576.4 537.0 577.9 537.1 579.4 537.3 580.9 537.4 582.4 537.5 583.9 537.6 585.4 537.7 586.9 537.8 588.4 537.9 589.9 538.0 591.4 538.1 592.9 538.2 594.4 538.3 595.9 538.4 597.4 538.5 598.9 538.6 600.4 538.6 601.9 538.7 603.4 538.8 604.9 538.9 606.4 538.9 607.9 539.0 609.4 539.1 610.9 539.1 612.4 539.2 613.9 539.2 615.4 539.3 616.9 539.3 618.4 539.3 619.9 539.4 621.4 539.4 622.9 539.5 624.4 539.5 625.9 539.6 627.4 539.6 628.9 539.7 630.4 539.8 631.9 539.8 633.4 539.9 634.9 540.1 636.4 540.2 637.9 540.3 639.4 540.5 640.9 540.6 642.4 540.7 643.9 540.9 645.4 541.0 646.9 541.0 648.4 541.1 649.9 541.2 651.4 541.3 652.9 541.4 654.4 541.5 655.9 541.6 657.4 541.6 658.9 541.7 660.4 541.8 661.9 541.9 663.4 541.9 664.9 542.0 666.4 542.1 667.9 542.1 669.4 542.2 670.9 542.3 672.4 542.3 674.0 542.4 675.5 542.5 677.0 542.5 678.5 542.6 680.0 542.6 681.5 542.7 683.0 542.7 684.5 542.8 686.0 542.8 687.5 542.9 689.0 542.9 690.5 543.0 692.0 543.0 693.5 543.0 695.0 543.1 696.5 543.1 698.0 543.1 699.5 543.1 701.0 543.2 702.5 543.2 704.0 543.2 705.5 543.2 707.0 543.3 708.5 543.3 710.0 543.4 711.5 543.4 713.0 543.4 714.5 543.5 716.0 543.5 717.5 543.6 719.0 543.6 720.5 543.7 722.0 543.7 723.5 543.8 725.0 543.8 726.5 543.9 728.0 543.9 729.5 544.0 731.0 544.0 732.5 544.1 734.0 544.1 735.6 544.1 737.1 544.2 738.6 544.2 740.1 544.2 741.6 544.3 743.1 544.3 744.6 544.3 746.1 544.4 747.6 544.4 749.1 544.4 750.6 544.5 752.1 544.5 753.6 544.5 755.1 544.6 756.6 544.6 758.1 544.6 759.6 544.7 761.1 544.7 762.6 544.7 764.1 544.7 765.6 544.8 767.1 544.8 768.6 544.8 770.1 544.9 771.6 544.9 773.1 544.9 774.6 545.0 776.1 545.0 777.6 545.0 779.1 545.1 780.6 545.1 782.1 545.1 783.6 545.2 785.1 545.2 786.6 545.2 788.1 545.2 789.6 545.3 791.1 545.3 792.7 545.3 794.2 545.4 795.7 545.4 797.2 545.4 798.7 545.5 800.2 545.5 801.7 545.5 803.2 545.6 804.7 545.6 806.2 545.6 807.7 545.6 809.2 545.7 810.7 545.7 812.2 545.7 813.7 545.8 815.2 545.8 816.7 545.8 818.2 545.9 819.7 545.9 821.2 545.9 822.7 546.0 824.2 546.0 825.7 546.0 827.2 546.1 828.7 546.1 830.2 546.2 831.7 546.2 833.2 546.2 834.7 546.3 836.2 546.3 837.7 546.3 839.2 546.4 840.7 546.4 842.2 546.4 843.7 546.5 845.2 546.5 846.7 546.5 848.2 546.6 849.8 546.6 851.3 546.6 852.8 546.7 854.3 546.7 855.8 546.7 857.3 546.7 858.8 546.8 860.3 546.8 861.8 546.8 863.3 546.8 864.8 546.9 866.3 546.9 867.8 546.9 869.3 546.9 870.8 546.9 872.3 547.0 873.8 547.0 875.3 547.0 876.8 547.0 878.3 547.0 879.8 547.1 881.3 547.1 882.8 547.1 884.3 547.1 885.8 547.1 887.3 547.1 888.8 547.2 890.3 547.2 891.8 547.2 893.3 547.2 894.8 547.2 896.3 547.3 897.8 547.3 899.3 547.3 900.8 547.3 902.4 547.3 903.9 547.4 905.4 547.4 906.9 547.4 908.4 547.4 909.9 547.5 911.4 547.5 912.9 547.5 914.4 547.5 915.9 547.6 917.4 547.6 918.9 547.6 920.4 547.6 921.9 547.7 923.4 547.7 924.9 547.7 926.4 547.7 927.9 547.8 929.4 547.8 930.9 547.8 932.4 547.8 933.9 547.8 935.4 547.9 936.9 547.9 938.4 547.9 939.9 547.9 941.4 548.0 942.9 548.0 944.4 548.0 945.9 548.0 947.4 548.0 948.9 548.1 950.4 548.1 951.9 548.1 953.4 548.1 955.0 548.1 956.5 548.1 958.0 548.2 959.5 548.2 961.0 548.2 962.5 548.2 964.0 548.2 965.5 548.2 967.0 548.3 968.5 548.3 970.0 548.3 971.5 548.3 973.0 548.3 974.5 548.3 976.0 548.4 977.5 548.4 979.0 548.4 980.5 548.4" fill="none" stroke="#006400" stroke-width="4.12" stroke-linejoin="miter" stroke-dasharray="46.10 15.20 7.80 15.20" stroke-dashoffset="-0.50"/>
<rect x="162.3" y="17.3" width="817.9" height="538.7" fill="none" stroke="#000" stroke-width="1.32"/>
<g font-family="'Liberation Serif', serif" fill="#000">
<text x="126.90" y="565.75" font-size="37.30" text-anchor="middle">0</text>
<text x="126.90" y="498.42" font-size="37.30" text-anchor="middle">2</text>
<text x="112.45" y="498.42" font-size="37.30" text-anchor="middle">.</text>
<text x="96.60" y="498.42" font-size="37.30" text-anchor="middle">0</text>
<text x="126.90" y="431.09" font-size="37.30" text-anchor="middle">4</text>
<text x="112.45" y="431.09" font-size="37.30" text-anchor="middle">.</text>
<text x="96.60" y="431.09" font-size="37.30" text-anchor="middle">0</text>
<text x="126.90" y="363.76" font-size="37.30" text-anchor="middle">6</text>
<text x="112.45" y="363.76" font-size="37.30" text-anchor="middle">.</text>
<text x="96.60" y="363.76" font-size="37.30" text-anchor="middle">0</text>
<text x="126.90" y="296.43" font-size="37.30" text-anchor="middle">8</text>
<text x="112.45" y="296.43" font-size="37.30" text-anchor="middle">.</text>
<text x="96.60" y="296.43" font-size="37.30" text-anchor="middle">0</text>
<text x="126.90" y="229.09" font-size="37.30" text-anchor="middle">1</text>
<text x="126.90" y="161.76" font-size="37.30" text-anchor="middle">2</text>
<text x="112.45" y="161.76" font-size="37.30" text-anchor="middle">.</text>
<text x="96.60" y="161.76" font-size="37.30" text-anchor="middle">1</text>
<text x="126.90" y="94.43" font-size="37.30" text-anchor="middle">4</text>
<text x="112.45" y="94.43" font-size="37.30" text-anchor="middle">.</text>
<text x="96.60" y="94.43" font-size="37.30" text-anchor="middle">1</text>
<text x="126.90" y="27.10" font-size="37.30" text-anchor="middle">6</text>
<text x="112.45" y="27.10" font-size="37.30" text-anchor="middle">.</text>
<text x="96.60" y="27.10" font-size="37.30" text-anchor="middle">1</text>
<text x="200.40" y="607.90" font-size="37.30" text-anchor="middle">0</text>
<text x="356.20" y="607.90" font-size="37.30" text-anchor="middle">2</text>
<text x="511.30" y="607.90" font-size="37.30" text-anchor="middle">4</text>
<text x="667.10" y="607.90" font-size="37.30" text-anchor="middle">6</text>
<text x="822.90" y="607.90" font-size="37.30" text-anchor="middle">8</text>
<text x="967.25" y="607.90" font-size="37.30" text-anchor="middle">1</text>
<text x="986.75" y="607.90" font-size="37.30" text-anchor="middle">0</text>
<text x="183.00" y="60.50" font-size="37.30" text-anchor="middle">1</text>
<line x1="195.20" y1="69.50" x2="209.20" y2="32.30" stroke="#000" stroke-width="1.55" stroke-linecap="round"/>
<text x="221.30" y="60.50" font-size="37.30" text-anchor="middle">2</text>
<path d="M232.40 40.20h19.8M242.30 30.60v19.2" stroke="#000" stroke-width="1.35" fill="none"/>
<text x="265.70" y="60.50" font-size="37.30" text-anchor="middle">1</text>
<line x1="277.90" y1="69.50" x2="291.90" y2="32.30" stroke="#000" stroke-width="1.55" stroke-linecap="round"/>
<text x="304.10" y="60.50" font-size="37.30" text-anchor="middle">2</text>
<text x="321.10" y="66.80" font-size="25.80" text-anchor="middle">1</text>
<text x="256.80" y="138.20" font-size="37.30" text-anchor="middle">3</text>
<line x1="269.00" y1="147.20" x2="283.00" y2="110.00" stroke="#000" stroke-width="1.55" stroke-linecap="round"/>
<text x="295.10" y="138.20" font-size="37.30" text-anchor="middle">2</text>
<line x1="307.20" y1="117.60" x2="325.00" y2="117.60" stroke="#000" stroke-width="1.35"/>
<text x="339.50" y="138.20" font-size="37.30" text-anchor="middle">1</text>
<line x1="351.70" y1="147.20" x2="365.70" y2="110.00" stroke="#000" stroke-width="1.55" stroke-linecap="round"/>
<text x="377.90" y="138.20" font-size="37.30" text-anchor="middle">2</text>
<text x="394.90" y="144.50" font-size="25.80" text-anchor="middle">3</text>
<text x="310.60" y="269.00" font-size="37.30" text-anchor="middle">3</text>
<line x1="322.80" y1="278.00" x2="336.80" y2="240.80" stroke="#000" stroke-width="1.55" stroke-linecap="round"/>
<text x="348.90" y="269.00" font-size="37.30" text-anchor="middle">2</text>
<line x1="361.00" y1="248.40" x2="378.80" y2="248.40" stroke="#000" stroke-width="1.35"/>
<text x="393.30" y="269.00" font-size="37.30" text-anchor="middle">3</text>
<line x1="405.50" y1="278.00" x2="419.50" y2="240.80" stroke="#000" stroke-width="1.55" stroke-linecap="round"/>
<text x="431.70" y="269.00" font-size="37.30" text-anchor="middle">2</text>
<text x="448.70" y="275.30" font-size="25.80" text-anchor="middle">1</text>
<text x="311.30" y="309.50" font-size="37.30" text-anchor="middle">1</text>
<line x1="323.50" y1="318.50" x2="337.50" y2="281.30" stroke="#000" stroke-width="1.55" stroke-linecap="round"/>
<text x="349.60" y="309.50" font-size="37.30" text-anchor="middle">2</text>
<line x1="361.70" y1="288.90" x2="379.50" y2="288.90" stroke="#000" stroke-width="1.35"/>
<text x="394.00" y="309.50" font-size="37.30" text-anchor="middle">1</text>
<line x1="406.20" y1="318.50" x2="420.20" y2="281.30" stroke="#000" stroke-width="1.55" stroke-linecap="round"/>
<text x="432.40" y="309.50" font-size="37.30" text-anchor="middle">2</text>
<text x="449.40" y="315.80" font-size="25.80" text-anchor="middle">3</text>
<path d="M232.50 70.90V95.90" stroke="#000" stroke-width="2.9" fill="none"/>
<path d="M228.55 94.70L236.45 94.70L233.85 104.60L231.15 104.60z" fill="#000"/>
<path d="M267.55 151.80V176.80" stroke="#000" stroke-width="2.9" fill="none"/>
<path d="M263.60 175.60L271.50 175.60L268.90 185.50L266.20 185.50z" fill="#000"/>
<path d="M346.35 320.10V345.10" stroke="#000" stroke-width="2.9" fill="none"/>
<path d="M342.40 343.90L350.30 343.90L347.70 353.80L345.00 353.80z" fill="#000"/>
<text x="789.2" y="60.20" font-size="39.2" text-anchor="end" textLength="140.0" lengthAdjust="spacingAndGlyphs">NCSMC</text>
<g transform="translate(613 102.10)" stroke="#000" fill="none"><path d="M10.4 -25.35H22" stroke-width="1.15"/><path d="M18.5 -25.3 L13.6 -7.6" stroke-width="3.3"/><path d="M13.9 -8.6 L13.2 -6.3 C12.0 -2.0 9.6 0.8 6.1 0.8 C3.0 0.8 0.9 -1.2 0.9 -3.6" stroke-width="2.3" stroke-linecap="round"/><circle cx="2.9" cy="-4.3" r="2.1" fill="#000" stroke="none"/></g>
<text transform="translate(644.8 88.20) scale(1.28 1)" font-size="22.6" font-style="italic" text-anchor="middle">π</text>
<path d="M668.30 89.05h25.4M668.30 96.25h25.4" stroke="#000" stroke-width="1.45" fill="none"/>
<text x="715.60" y="102.10" font-size="37.30" text-anchor="middle">1</text>
<line x1="729.00" y1="111.10" x2="743.00" y2="73.90" stroke="#000" stroke-width="1.55" stroke-linecap="round"/>
<text x="754.60" y="102.10" font-size="37.30" text-anchor="middle">2</text>
<path d="M765.00 81.80h19.8M774.90 72.20v19.2" stroke="#000" stroke-width="1.35" fill="none"/>
<g transform="translate(613 144.10)" stroke="#000" fill="none"><path d="M10.4 -25.35H22" stroke-width="1.15"/><path d="M18.5 -25.3 L13.6 -7.6" stroke-width="3.3"/><path d="M13.9 -8.6 L13.2 -6.3 C12.0 -2.0 9.6 0.8 6.1 0.8 C3.0 0.8 0.9 -1.2 0.9 -3.6" stroke-width="2.3" stroke-linecap="round"/><circle cx="2.9" cy="-4.3" r="2.1" fill="#000" stroke="none"/></g>
<text transform="translate(644.8 130.20) scale(1.28 1)" font-size="22.6" font-style="italic" text-anchor="middle">π</text>
<path d="M668.30 131.05h25.4M668.30 138.25h25.4" stroke="#000" stroke-width="1.45" fill="none"/>
<text x="715.60" y="144.10" font-size="37.30" text-anchor="middle">1</text>
<line x1="729.00" y1="153.10" x2="743.00" y2="115.90" stroke="#000" stroke-width="1.55" stroke-linecap="round"/>
<text x="754.60" y="144.10" font-size="37.30" text-anchor="middle">2</text>
<line x1="766.00" y1="123.50" x2="783.80" y2="123.50" stroke="#000" stroke-width="1.35"/>
<g transform="translate(613 186.10)" stroke="#000" fill="none"><path d="M10.4 -25.35H22" stroke-width="1.15"/><path d="M18.5 -25.3 L13.6 -7.6" stroke-width="3.3"/><path d="M13.9 -8.6 L13.2 -6.3 C12.0 -2.0 9.6 0.8 6.1 0.8 C3.0 0.8 0.9 -1.2 0.9 -3.6" stroke-width="2.3" stroke-linecap="round"/><circle cx="2.9" cy="-4.3" r="2.1" fill="#000" stroke="none"/></g>
<text transform="translate(644.8 172.20) scale(1.28 1)" font-size="22.6" font-style="italic" text-anchor="middle">π</text>
<path d="M668.30 173.05h25.4M668.30 180.25h25.4" stroke="#000" stroke-width="1.45" fill="none"/>
<text x="715.60" y="186.10" font-size="37.30" text-anchor="middle">3</text>
<line x1="729.00" y1="195.10" x2="743.00" y2="157.90" stroke="#000" stroke-width="1.55" stroke-linecap="round"/>
<text x="754.60" y="186.10" font-size="37.30" text-anchor="middle">2</text>
<line x1="766.00" y1="165.50" x2="783.80" y2="165.50" stroke="#000" stroke-width="1.35"/>
</g>
<path d="M816.3 50.00H930.1" stroke="#0000ff" stroke-width="4.12"/>
<path d="M816.3 92.00H930.1" stroke="#000" stroke-width="4.12" stroke-dasharray="15.60 22.75"/>
<path d="M816.3 134.00H930.1" stroke="#ff0000" stroke-width="4.12" stroke-dasharray="7.85 11.32"/>
<path d="M816.3 176.00H930.1" stroke="#006400" stroke-width="4.12" stroke-dasharray="46.20 15.25 7.85 15.25"/>
<g font-family="'Liberation Serif', serif" fill="#000">
<text transform="translate(485.3 669.9) scale(1.1 1)" font-size="38.6" font-style="italic" text-anchor="middle">E</text>
<text x="498.0" y="675.3" font-size="27.4" textLength="53.4" lengthAdjust="spacing">c.m.</text>
<text x="579.2" y="669.9" font-size="39.2" textLength="80.4" lengthAdjust="spacingAndGlyphs">MeV</text>
<path d="M577.9 642.2h-4.3v36.8h4.3M660.6 642.2h4.3v36.8h-4.3" stroke="#000" stroke-width="1.4" fill="none"/>
<g transform="translate(30.6 0) rotate(-90)">
<text x="-315.2" y="0" font-size="35.5" font-style="italic" text-anchor="middle">σ</text>
<text x="-268.3" y="0" font-size="36.8" text-anchor="middle">b</text>
<path d="M-281.0 -28.6h-4.3v38h4.3M-257.2 -28.6h4.3v38h-4.3" stroke="#000" stroke-width="1.4" fill="none"/>
</g>
</g>
</svg>
</body></html>
